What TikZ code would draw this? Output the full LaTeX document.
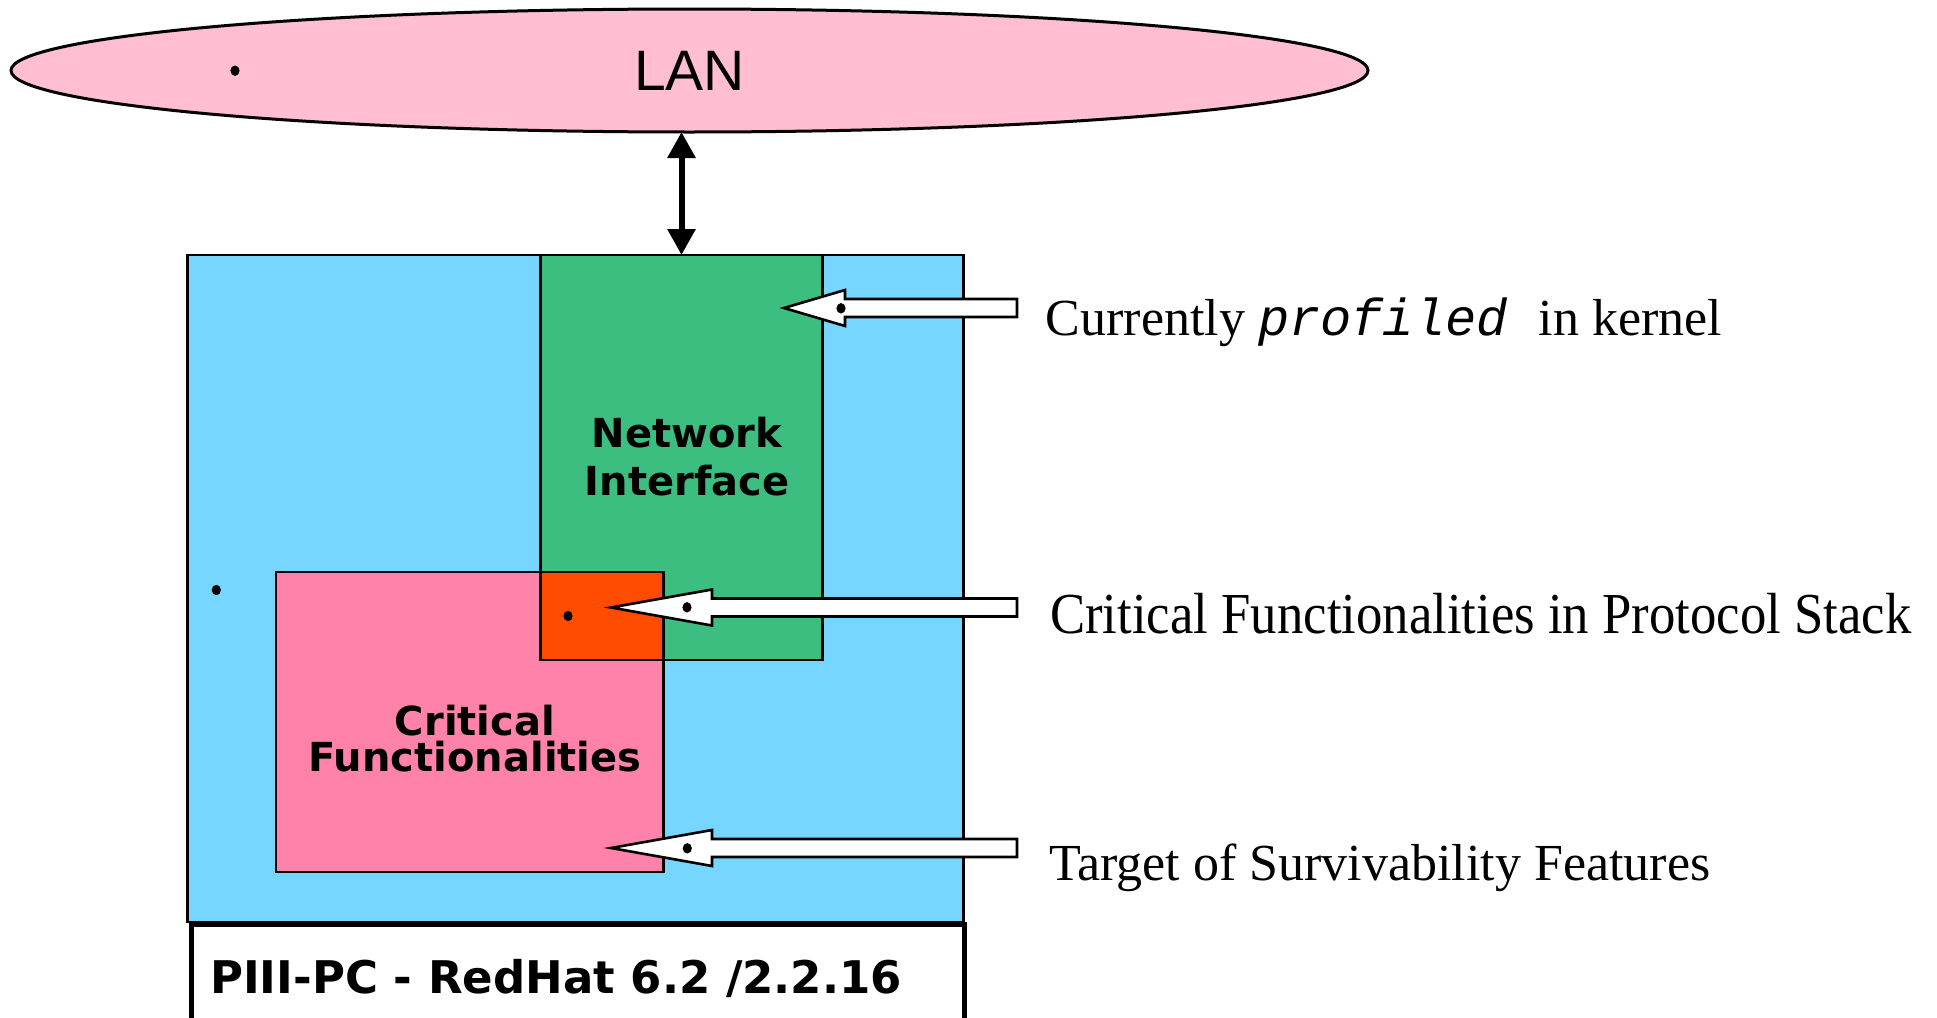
\documentclass[tikz,border=0pt]{standalone}
\usepackage{fontspec}
\setmainfont{Liberation Serif}
\setmonofont{Liberation Mono}
\newfontfamily\lanfont{Liberation Sans}
\newfontfamily\boxfont{DejaVu Sans}
\usepackage{graphicx}
\usetikzlibrary{calc}
\usetikzlibrary{arrows.meta}
\usetikzlibrary{positioning,shapes.geometric}
\definecolor{lanpink}{RGB}{255,190,210}
\definecolor{pcblue}{RGB}{118,214,255}
\definecolor{nigreen}{RGB}{60,190,128}
\definecolor{critpink}{RGB}{255,130,170}
\definecolor{hotorange}{RGB}{255,76,0}
% block arrow: tip, column of the tails, length of the head
\newcommand{\pointer}[3]{\draw[Pointer] (#1) -- ++(#3,-18) -- ++(0,9)
  -- ($(#1 -| #2)+(0,-9)$) -- ($(#1 -| #2)+(0,9)$)
  -- ($(#1)+(#3,9)$) -- ++(0,9) -- cycle;}

\begin{document}
\begin{tikzpicture}[
x=1pt, y=-1pt,
Region/.style={draw=black, line width=2.6pt, outer sep=0pt, inner sep=0pt, anchor=north west},
Pointer/.style={draw=black, fill=white, line width=2.6pt, line join=miter},
Link/.style={line width=6pt, {Triangle[length=26pt,width=27pt]}-{Triangle[length=26pt,width=27pt]}},
BoxText/.style={font=\boxfont\bfseries\fontsize{40}{48}\selectfont, align=center, inner sep=0pt},
Note/.style={font=\fontsize{52}{60}\selectfont, anchor=base west, inner sep=0pt}
]
\useasboundingbox (0,0) rectangle (1937,1017);
\clip (0,0) rectangle (1937,1017);

% the network
\node[ellipse, draw=black, line width=3pt, fill=lanpink, minimum width=1357pt, minimum height=123pt,
  inner sep=0pt, outer sep=0pt, font=\lanfont\fontsize{57}{60}\selectfont] (lan) at (689.5,70.5) {LAN};

% the host and its parts
\node[Region, fill=pcblue, minimum width=776pt, minimum height=667pt] (pc) at (187.5,255) {};
\node[Region, fill=nigreen, minimum width=282pt, minimum height=405pt] (netif) at (540.5,255) {};
\node[Region, fill=critpink, minimum width=387.5pt, minimum height=300pt] (crit) at (276,572) {};
\node[Region, fill=hotorange, minimum width=123pt, minimum height=88pt] (stack) at (netif.west |- crit.north) {};

\node[Region, fill=white, line width=5pt, minimum width=773pt, minimum height=110pt] (os) at (191,924) {};
\node[font=\boxfont\bfseries\fontsize{45}{50}\selectfont, anchor=base west, inner sep=0pt] (oslabel) at (210,993)
  {PIII-PC - RedHat 6.2 /2.2.16};

\node[BoxText] (nitext) at (687,457) {Network\\Interface};
\node[BoxText, font=\boxfont\bfseries\fontsize{40}{36}\selectfont] (crittext) at (475,739) {Critical\\Functionalities};

% notes on the right
\node[Note] (profiled) at (1045.5,335) {Currently {\ttfamily\itshape profiled }in kernel};
\node[Note] (stacknote) at (1050,633.5)
  {\scalebox{0.909}[1]{\fontsize{58}{64}\selectfont Critical Functionalities in Protocol Stack}};
\node[Note] (target) at (1049,880) {Target of Survivability Features};

\coordinate (tipA) at (784,308);
\coordinate (tipB) at (611,607.5);
\coordinate (tipC) at (611,848);
\coordinate (tails) at ([xshift=-28.5pt]profiled.west);
\pointer{tipA}{tails}{61}
\pointer{tipB}{tails}{101}
\pointer{tipC}{tails}{101}

\foreach \p in {(235,70.7),(216.3,590),(568,616),(841,308.3),(687,607.3),(687.3,848.3)}
  \fill \p circle[x radius=4.6pt, y radius=5.2pt];

\draw[Link] (netif.north) -- (netif.north |- lan.south);

\end{tikzpicture}
\end{document}
